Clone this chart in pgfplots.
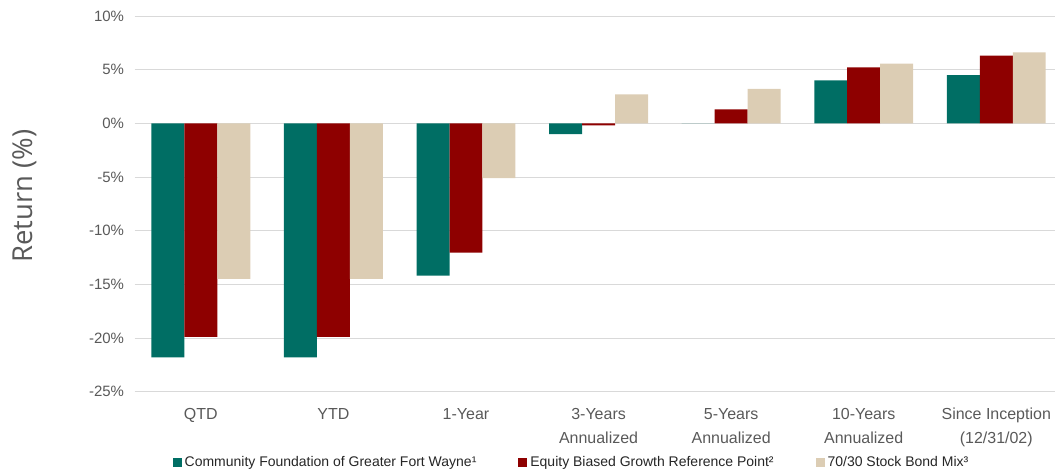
\documentclass[border=0pt]{standalone}
\usepackage{pgfplots}
\pgfplotsset{compat=1.18}
\usepackage{fontspec}
\setmainfont{Liberation Sans}
\newfontfamily\labelfont{Open Sans}
\definecolor{cfteal}{HTML}{006E64}
\definecolor{cfred}{HTML}{8E0000}
\definecolor{cfbeige}{HTML}{DCCDB4}
\definecolor{txtgray}{HTML}{595959}
\definecolor{gridgray}{HTML}{D9D9D9}

\pgfplotstableread{
x  cf     eq     mix
0  -21.8  -19.9  -14.5
1  -21.8  -19.9  -14.5
2  -14.2  -12.05 -5.1
3  -1.0   -0.2   2.7
4  0.0    1.3    3.2
5  4.0    5.2    5.55
6  4.5    6.3    6.6
}\returns

\begin{document}
\begin{tikzpicture}[x=1pt,y=1pt]
\begin{axis}[
  at={(0,0)}, anchor=south west,
  scale only axis,
  width=921pt, height=376pt,
  ybar=0pt, bar width=33pt,
  xmin=-0.5, xmax=6.44,
  ymin=-25, ymax=10,
  ytick={-25,-20,...,10},
  yticklabel={\pgfmathprintnumber{\tick}\%},
  xtick=data,
  xticklabels={QTD,YTD,1-Year,3-Years\\Annualized,5-Years\\Annualized,10-Years\\Annualized,Since Inception\\(12/31/02)},
  x tick label style={align=center, font=\fontsize{16}{24}\selectfont, text=txtgray, yshift=-13pt},
  y tick label style={font=\fontsize{15}{18}\selectfont, text=txtgray, xshift=-7pt},
  /pgf/number format/assume math mode=true,
  axis line style={draw=none},
  major tick length=0pt,
  ymajorgrids=true,
  grid style={gridgray, line width=0.8pt},
  ylabel={\labelfont Return (\%)},
  ylabel style={font=\fontsize{27.5}{32}\selectfont, text=txtgray, anchor=center, at={(axis description cs:-0.119,0.52)}},
  clip=false,
  legend columns=-1,
  legend style={draw=none, at={(axis description cs:0.038,-0.189)}, anchor=west,
    font=\fontsize{14}{17}\selectfont, text=black!85,
    /tikz/every odd column/.append style={column sep=1pt},
    /tikz/every even column/.append style={column sep=40pt}},
  legend image code/.code={\fill[#1] (0pt,-4.5pt) rectangle (9pt,4.5pt);},
]
\addplot[fill=cfteal, draw=none] table[x=x,y=cf] {\returns};
\addplot[fill=cfred, draw=none] table[x=x,y=eq] {\returns};
\addplot[fill=cfbeige, draw=none] table[x=x,y=mix] {\returns};
\legend{Community Foundation of Greater Fort Wayne¹,Equity Biased Growth Reference Point²,70/30 Stock Bond Mix³}
\end{axis}
\path[use as bounding box] (-134.7,-81) rectangle (920.3,392);
\end{tikzpicture}
\end{document}
